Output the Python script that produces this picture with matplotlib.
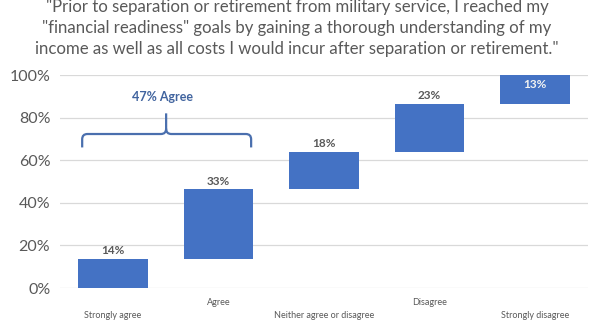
import matplotlib
matplotlib.use("Agg")
import matplotlib.pyplot as plt
import matplotlib.patches as mpatches
from matplotlib.path import Path
import numpy as np

plt.rcParams['font.family'] = ['Lato', 'DejaVu Sans']

# data
categories = ["Strongly agree", "Agree", "Neither agree or disagree", "Disagree", "Strongly disagree"]
values = [13.6, 32.7, 17.7, 22.4, 13.6]
value_labels = ["14%", "33%", "18%", "23%", "13%"]
title = ('"Prior to separation or retirement from military service, I reached my\n'
         '"financial readiness" goals by gaining a thorough understanding of my\n'
         'income as well as all costs I would incur after separation or retirement."')
bracket_label = "47% Agree"

bar_color = "#4472C4"
text_gray = "#595959"
bracket_color = "#4A6FAE"

fig = plt.figure(figsize=(6, 3.29), dpi=100)
ax = fig.add_axes([0.10, 0.1246, 0.88, 0.6474])

x = np.arange(len(categories))
bottoms = np.concatenate([[0], np.cumsum(values)[:-1]])
bars = ax.bar(x, values, bottom=bottoms, width=0.66, color=bar_color, zorder=2)

# value labels
for i, (b, lab) in enumerate(zip(bars, value_labels)):
    top = b.get_y() + b.get_height()
    if top >= 99.5:
        ax.annotate(lab, (b.get_x() + b.get_width() / 2, top), xytext=(0, -3),
                    textcoords="offset points", ha="center", va="top",
                    fontsize=8.5, fontweight="bold", color="#F2F2F2", zorder=3)
    else:
        ax.annotate(lab, (b.get_x() + b.get_width() / 2, top), xytext=(0, 2),
                    textcoords="offset points", ha="center", va="bottom",
                    fontsize=8.5, fontweight="bold", color=text_gray, zorder=3)

ax.set_ylim(0, 100)
ax.set_xlim(-0.5, len(categories) - 0.5)
ax.set_yticks(np.arange(0, 101, 20))
ax.set_yticklabels([f"{v}%" for v in range(0, 101, 20)], fontsize=11.5, color=text_gray)
ax.tick_params(axis="y", length=0, pad=7)
ax.set_xticks([])
ax.grid(axis="y", color="#D9D9D9", linewidth=0.9, zorder=0)
for s in ax.spines.values():
    s.set_visible(False)

# staggered category labels
trans = matplotlib.transforms.blended_transform_factory(ax.transData, ax.transAxes)
for i, c in enumerate(categories):
    yy = -0.131 if i % 2 == 0 else -0.070
    ax.text(i, yy, c, transform=trans, ha="center", va="center",
            fontsize=6.5, color=text_gray)

# bracket over first two bars
xl, xr, xm = -0.29, 1.31, 0.505
yt, yh, ytop = 66.0, 72.3, 82.0
rx, ry = 0.05, 2.5
verts = [(xl, yt), (xl, yh - ry), (xl, yh), (xl + rx, yh),
         (xm - rx, yh), (xm, yh), (xm, yh + ry), (xm, ytop)]
codes = [Path.MOVETO, Path.LINETO, Path.CURVE3, Path.CURVE3,
         Path.LINETO, Path.CURVE3, Path.CURVE3, Path.LINETO]
ax.add_patch(mpatches.PathPatch(Path(verts, codes), fill=False, edgecolor=bracket_color,
                                linewidth=1.6, zorder=3, clip_on=False))
verts2 = [(xr, yt), (xr, yh - ry), (xr, yh), (xr - rx, yh),
          (xm + rx, yh), (xm, yh), (xm, yh + ry)]
codes2 = [Path.MOVETO, Path.LINETO, Path.CURVE3, Path.CURVE3,
          Path.LINETO, Path.CURVE3, Path.CURVE3]
ax.add_patch(mpatches.PathPatch(Path(verts2, codes2), fill=False, edgecolor=bracket_color,
                                linewidth=1.6, zorder=3, clip_on=False))
ax.text(0.47, 89.5, bracket_label, ha="center", va="center", fontsize=9,
        fontweight="bold", color="#41649F")

fig.text(0.495, 1 - 28 / 329, title, ha="center", va="center", fontsize=12.1,
         color=text_gray, linespacing=1.42)

fig.savefig("out.png", dpi=100)
